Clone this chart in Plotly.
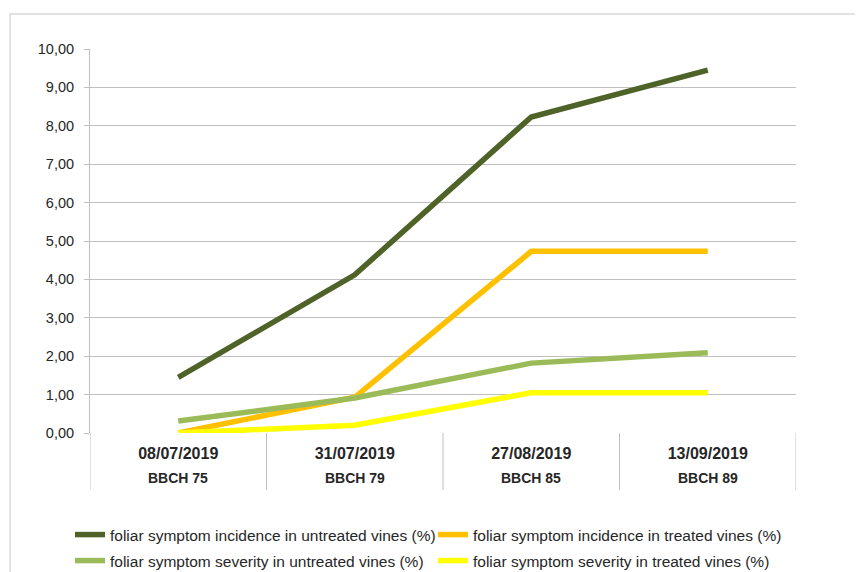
import plotly.graph_objects as go

dates = ["08/07/2019", "31/07/2019", "27/08/2019", "13/09/2019"]
stages = ["BBCH 75", "BBCH 79", "BBCH 85", "BBCH 89"]

names = [
    "foliar symptom incidence in untreated vines (%)",
    "foliar symptom incidence in treated vines (%)",
    "foliar symptom severity in untreated vines (%)",
    "foliar symptom severity in treated vines (%)",
]
incidence_untreated = [1.45, 4.12, 8.23, 9.45]
incidence_treated = [0.0, 0.93, 4.73, 4.73]
severity_untreated = [0.31, 0.91, 1.82, 2.09]
severity_treated = [0.0, 0.20, 1.05, 1.05]
colors = ["#4f6228", "#ffc000", "#9bbb59", "#ffff00"]

series = [incidence_untreated, incidence_treated, severity_untreated, severity_treated]
legend_ids = ["legend", "legend", "legend2", "legend2"]
xs = list(range(len(dates)))

# page has an 8px body margin, so the figure is 8px smaller
W, H = 855, 564
ml, mr, mt, mb = 82, 67, 41, 139
pw = W - ml - mr
ph = H - mt - mb

fig = go.Figure()
for name, vals, col, lg in zip(names, series, colors, legend_ids):
    fig.add_trace(go.Scatter(x=xs, y=vals, mode="lines", name=name, legend=lg,
                             line=dict(color=col, width=5.5)))

grid = "#bfbfbf"
font = "Liberation Sans"
txt = "#262626"
shapes = []
# category dividers below axis
for i in range(len(dates) + 1):
    shapes.append(dict(type="line", xref="x", yref="paper", x0=i - 0.5, x1=i - 0.5,
                       y0=0, y1=-57 / ph, line=dict(color=grid, width=1)))
# outer chart border
shapes.append(dict(type="rect", xref="paper", yref="paper",
                   x0=(2 - ml) / pw, x1=(880 - ml) / pw,
                   y0=-(620 - (H - mb)) / ph, y1=1 + (mt - 6) / ph,
                   line=dict(color="#d9d9d9", width=1.5), fillcolor="rgba(0,0,0,0)", layer="below"))

annotations = []
for i, s in enumerate(stages):
    annotations.append(dict(x=i, y=0, xref="x", yref="paper", text="<b>%s</b>" % s,
                            showarrow=False, yanchor="middle", yshift=-45,
                            font=dict(family=font, size=14, color=txt)))

leg_common = dict(orientation="h", x=(62 - ml) / pw, xanchor="left", yanchor="middle",
                  entrywidth=318, entrywidthmode="pixels",
                  font=dict(family=font, size=15.5, color=txt), bgcolor="rgba(0,0,0,0)")

fig.update_layout(
    width=W, height=H,
    margin=dict(l=ml, r=mr, t=mt, b=mb, autoexpand=False),
    paper_bgcolor="white", plot_bgcolor="white",
    separators=",.",
    font=dict(family=font, size=13, color=txt),
    shapes=shapes, annotations=annotations,
    showlegend=True,
    legend=dict(y=((H - mb) - 527) / ph, **leg_common),
    legend2=dict(y=((H - mb) - 553) / ph, **leg_common),
    xaxis=dict(range=[-0.5, len(dates) - 0.5], tickvals=xs,
               ticktext=["<b>%s</b>" % d for d in dates], showgrid=False,
               zeroline=False, showline=False, ticks="outside", ticklen=6,
               tickcolor="rgba(0,0,0,0)",
               tickfont=dict(family=font, size=16, color=txt)),
    yaxis=dict(range=[0, 10], dtick=1, tickformat=".2f", showgrid=True, gridcolor=grid,
               gridwidth=1, zeroline=False, showline=True, linecolor=grid,
               ticks="outside", ticklen=5, tickcolor=grid, ticklabelstandoff=7,
               tickfont=dict(family=font, size=14.5, color=txt)),
)

fig.write_html("out.html")
